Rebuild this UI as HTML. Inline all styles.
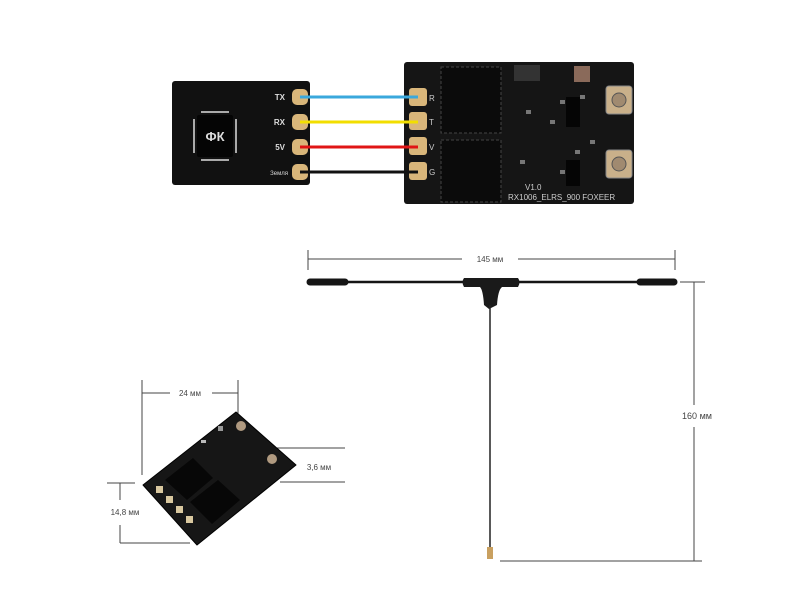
<!DOCTYPE html>
<html><head><meta charset="utf-8"><style>
html,body{margin:0;padding:0;background:#fff;}
svg{display:block;}
text{font-family:"Liberation Sans",sans-serif;}
</style></head><body>
<svg width="809" height="613" viewBox="0 0 809 613" xmlns="http://www.w3.org/2000/svg">
<rect width="809" height="613" fill="#fff"/>
<!-- left FC board -->
<rect x="172" y="81" width="138" height="104" rx="3" fill="#111"/>
<rect x="197" y="115" width="36" height="42" rx="2" fill="#050505"/>
<g fill="#aaa">
<rect x="201" y="111" width="28" height="2"/><rect x="201" y="159" width="28" height="2"/>
<rect x="193" y="119" width="2" height="34"/><rect x="235" y="119" width="2" height="34"/>
</g>
<text x="215" y="141" fill="#ddd" font-size="13" font-weight="bold" text-anchor="middle">ФК</text>
<g fill="#ddd" font-size="8" font-weight="bold" text-anchor="end">
<text x="285" y="100">TX</text><text x="285" y="125">RX</text><text x="285" y="150">5V</text>
<text x="288" y="175" font-size="6" font-weight="normal">Земля</text>
</g>
<g fill="#d9b67a"><rect x="292" y="89" width="16" height="16" rx="5"/><rect x="292" y="114" width="16" height="16" rx="5"/><rect x="292" y="139" width="16" height="16" rx="5"/><rect x="292" y="164" width="16" height="16" rx="5"/></g>
<!-- right receiver board -->
<rect x="404" y="62" width="230" height="142" rx="3" fill="#151515"/>
<rect x="441" y="67" width="60" height="66" fill="#0b0b0b" stroke="#444" stroke-dasharray="3,2"/>
<rect x="441" y="140" width="60" height="62" fill="#0b0b0b" stroke="#444" stroke-dasharray="3,2"/>
<g fill="#d9b67a"><rect x="409" y="88" width="18" height="18" rx="3"/><rect x="409" y="112" width="18" height="18" rx="3"/><rect x="409" y="137" width="18" height="18" rx="3"/><rect x="409" y="162" width="18" height="18" rx="3"/></g>
<g fill="#ccc" font-size="8"><text x="429" y="101">R</text><text x="429" y="125">T</text><text x="429" y="150">V</text><text x="429" y="175">G</text></g>
<rect x="514" y="65" width="26" height="16" fill="#333"/><rect x="574" y="66" width="16" height="16" fill="#8a6a5a"/>
<g fill="#777"><rect x="526" y="110" width="5" height="4"/><rect x="550" y="120" width="5" height="4"/><rect x="560" y="100" width="5" height="4"/><rect x="580" y="95" width="5" height="4"/><rect x="590" y="140" width="5" height="4"/><rect x="520" y="160" width="5" height="4"/><rect x="560" y="170" width="5" height="4"/><rect x="575" y="150" width="5" height="4"/></g>
<rect x="566" y="97" width="14" height="30" fill="#050505"/><rect x="566" y="160" width="14" height="26" fill="#050505"/>
<g fill="#c9b08a" stroke="#888"><rect x="606" y="86" width="26" height="28" rx="3"/><rect x="606" y="150" width="26" height="28" rx="3"/></g>
<circle cx="619" cy="100" r="7" fill="#a08a70" stroke="#555"/><circle cx="619" cy="164" r="7" fill="#a08a70" stroke="#555"/>
<text x="525" y="190" fill="#ccc" font-size="8">V1.0</text>
<text x="508" y="200" fill="#ccc" font-size="8">RX1006_ELRS_900  FOXEER</text>
<!-- wires -->
<g stroke-width="3" fill="none">
<line x1="300" y1="97" x2="418" y2="97" stroke="#3aa8dc"/>
<line x1="300" y1="122" x2="418" y2="122" stroke="#f2de00"/>
<line x1="300" y1="147" x2="418" y2="147" stroke="#e01515"/>
<line x1="300" y1="172" x2="418" y2="172" stroke="#111"/>
</g>
<!-- antenna dims -->
<g stroke="#444" stroke-width="1">
<line x1="308" y1="259" x2="462" y2="259"/><line x1="518" y1="259" x2="675" y2="259"/>
<line x1="308" y1="250" x2="308" y2="270"/><line x1="675" y1="250" x2="675" y2="270"/>
<line x1="680" y1="282" x2="705" y2="282"/><line x1="694" y1="282" x2="694" y2="405"/><line x1="694" y1="427" x2="694" y2="561"/>
<line x1="500" y1="561" x2="702" y2="561"/>
</g>
<text x="490" y="262" font-size="8" fill="#444" text-anchor="middle">145 мм</text>
<text x="697" y="419" font-size="9" fill="#444" text-anchor="middle">160 мм</text>
<!-- antenna -->
<line x1="307" y1="282" x2="676" y2="282" stroke="#151515" stroke-width="2.5"/>
<line x1="310" y1="282" x2="345" y2="282" stroke="#151515" stroke-width="7" stroke-linecap="round"/>
<line x1="640" y1="282" x2="674" y2="282" stroke="#151515" stroke-width="7" stroke-linecap="round"/>
<path d="M464 278 Q461 282 464 287 L480 287 Q483 290 484 305 L489 309 L497 305 Q498 290 502 287 L518 287 Q521 282 518 278 Z" fill="#1a1a1a"/>
<line x1="490" y1="305" x2="490" y2="548" stroke="#222" stroke-width="1.5"/>
<rect x="487" y="547" width="6" height="12" fill="#c9a060"/>
<!-- small module -->
<g stroke="#444" stroke-width="1">
<line x1="142" y1="380" x2="142" y2="475"/><line x1="238" y1="380" x2="238" y2="414"/>
<line x1="142" y1="393" x2="170" y2="393"/><line x1="212" y1="393" x2="238" y2="393"/>
<line x1="275" y1="448" x2="345" y2="448"/><line x1="280" y1="482" x2="345" y2="482"/>
<line x1="107" y1="483" x2="135" y2="483"/><line x1="120" y1="543" x2="190" y2="543"/>
<line x1="120" y1="483" x2="120" y2="500"/><line x1="120" y1="525" x2="120" y2="543"/>
</g>
<text x="190" y="396" font-size="8" fill="#444" text-anchor="middle">24 мм</text>
<text x="319" y="470" font-size="8" fill="#444" text-anchor="middle">3,6 мм</text>
<text x="125" y="515" font-size="8" fill="#444" text-anchor="middle">14,8 мм</text>
<polygon points="236,412 296,465 197,545 143,485" fill="#161616" stroke="#000" stroke-linejoin="round"/>
<polygon points="165,480 193,458 213,478 187,500" fill="#070707"/>
<polygon points="190,502 218,480 240,500 212,524" fill="#070707"/>
<circle cx="241" cy="426" r="5" fill="#b09a80"/><circle cx="272" cy="459" r="5" fill="#b09a80"/>
<rect x="218" y="426" width="5" height="5" fill="#999"/><rect x="201" y="440" width="5" height="3" fill="#bbb"/>
<g fill="#d9c8a0"><rect x="156" y="486" width="7" height="7"/><rect x="166" y="496" width="7" height="7"/><rect x="176" y="506" width="7" height="7"/><rect x="186" y="516" width="7" height="7"/></g>
</svg>
</body></html>
